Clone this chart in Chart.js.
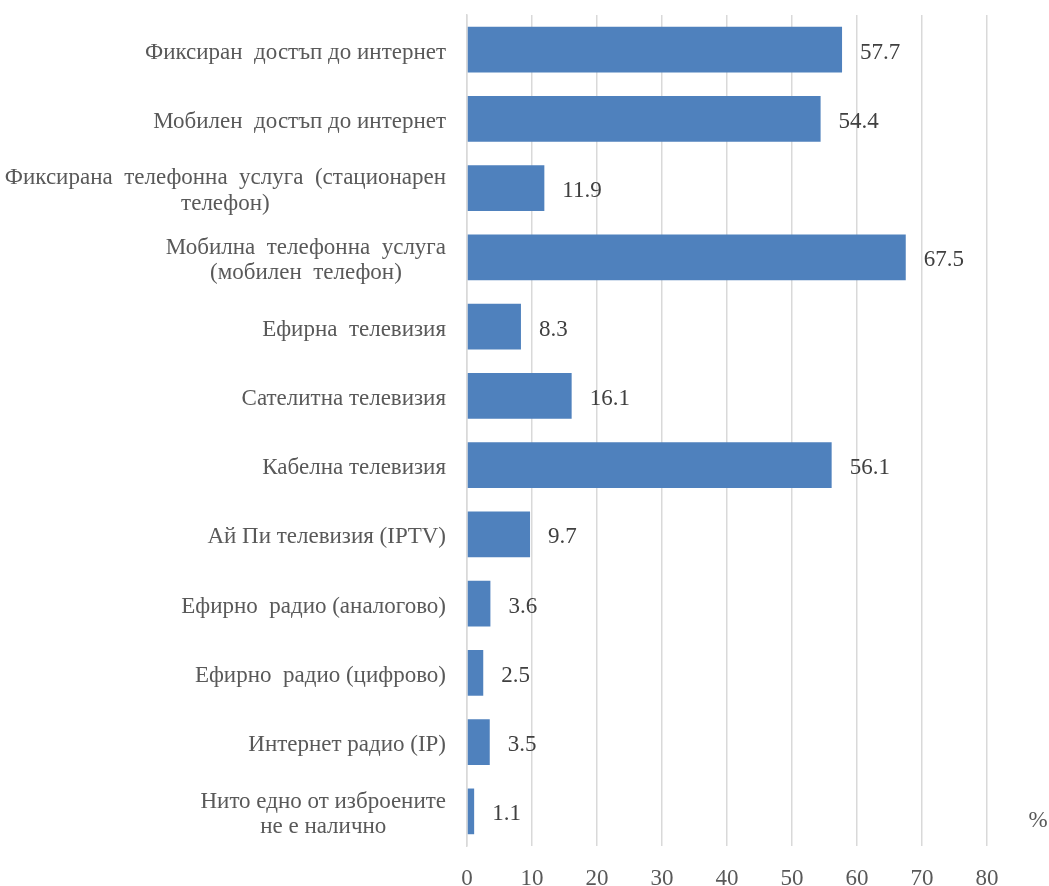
<!DOCTYPE html>
<html>
<head>
<meta charset="utf-8">
<script src="https://cdn.jsdelivr.net/npm/chart.js@4"></script>
<style>
    html, body { margin: 0; padding: 0; background: #fff; }
    #wrap { width: 1049px; height: 886px; }
</style>
</head>
<body>
<div id="wrap"><canvas id="servicesChart"></canvas></div>
<script>
const categories = [
    ['Фиксиран  достъп до интернет'],
    ['Мобилен  достъп до интернет'],
    ['Фиксирана  телефонна  услуга  (стационарен', 'телефон)'],
    ['Мобилна  телефонна  услуга', '(мобилен  телефон)'],
    ['Ефирна  телевизия'],
    ['Сателитна телевизия'],
    ['Кабелна телевизия'],
    ['Ай Пи телевизия (IPTV)'],
    ['Ефирно  радио (аналогово)'],
    ['Ефирно  радио (цифрово)'],
    ['Интернет радио (IP)'],
    ['Нито едно от изброените', 'не е налично']
];
const values = [57.7, 54.4, 11.9, 67.5, 8.3, 16.1, 56.1, 9.7, 3.6, 2.5, 3.5, 1.1];
const xTicks = [0, 10, 20, 30, 40, 50, 60, 70, 80];
const unitLabel = '%';

const serif = '"Liberation Serif", "Times New Roman", serif';
const textColor = '#595959';
const fontSize = 23;

// category labels: right aligned block, lines centred inside it
const labelPlugin = {
    id: 'labelPlugin',
    afterDraw(chart) {
        const ctx = chart.ctx;
        const yScale = chart.scales.y;
        const xScale = chart.scales.x;
        const meta = chart.getDatasetMeta(0);
        ctx.save();
        ctx.font = fontSize + 'px ' + serif;
        ctx.fillStyle = textColor;
        ctx.textBaseline = 'middle';

        const rightEdge = chart.chartArea.left - 21;
        const lineH = 25.5;
        categories.forEach((lines, i) => {
            const cy = yScale.getPixelForValue(i) + 3;
            const widths = lines.map(l => ctx.measureText(l).width);
            const blockW = Math.max(...widths);
            const center = rightEdge - blockW / 2;
            ctx.textAlign = 'center';
            lines.forEach((l, j) => {
                const y = cy + (j - (lines.length - 1) / 2) * lineH;
                ctx.fillText(l, center, y);
            });
        });

        // value labels
        ctx.textAlign = 'left';
        ctx.fillStyle = '#404040';
        meta.data.forEach((bar, i) => {
            ctx.fillText(values[i].toFixed(1), bar.x + 18, bar.y + 3);
        });

        // unit
        ctx.fillStyle = textColor;
        ctx.textAlign = 'center';
        ctx.fillText(unitLabel, xScale.right + 51, yScale.getPixelForValue(categories.length - 1) + 10);
        ctx.restore();
    }
};

new Chart(document.getElementById('servicesChart'), {
    type: 'bar',
    data: {
        labels: categories,
        datasets: [{
            data: values,
            backgroundColor: '#4F81BD',
            borderWidth: 0,
            barPercentage: 0.66,
            categoryPercentage: 1.0
        }]
    },
    options: {
        indexAxis: 'y',
        responsive: true,
        maintainAspectRatio: false,
        animation: false,
        layout: { padding: { top: 15, right: 62, bottom: 0, left: 0 } },
        plugins: {
            legend: { display: false },
            tooltip: { enabled: false }
        },
        scales: {
            x: {
                min: 0,
                max: 80,
                afterBuildTicks(scale) {
                    scale.ticks = xTicks.map(v => ({ value: v }));
                },
                afterFit(scale) { scale.height = 40; },
                grid: { color: '#D9D9D9', lineWidth: 1.5, drawTicks: false },
                border: { display: false },
                ticks: {
                    color: textColor,
                    font: { family: serif, size: fontSize },
                    padding: 19
                }
            },
            y: {
                afterFit(scale) { scale.width = 467; },
                grid: { display: false },
                border: { color: '#D9D9D9', width: 1.5 },
                ticks: { display: false }
            }
        }
    },
    plugins: [labelPlugin]
});
</script>
</body>
</html>
